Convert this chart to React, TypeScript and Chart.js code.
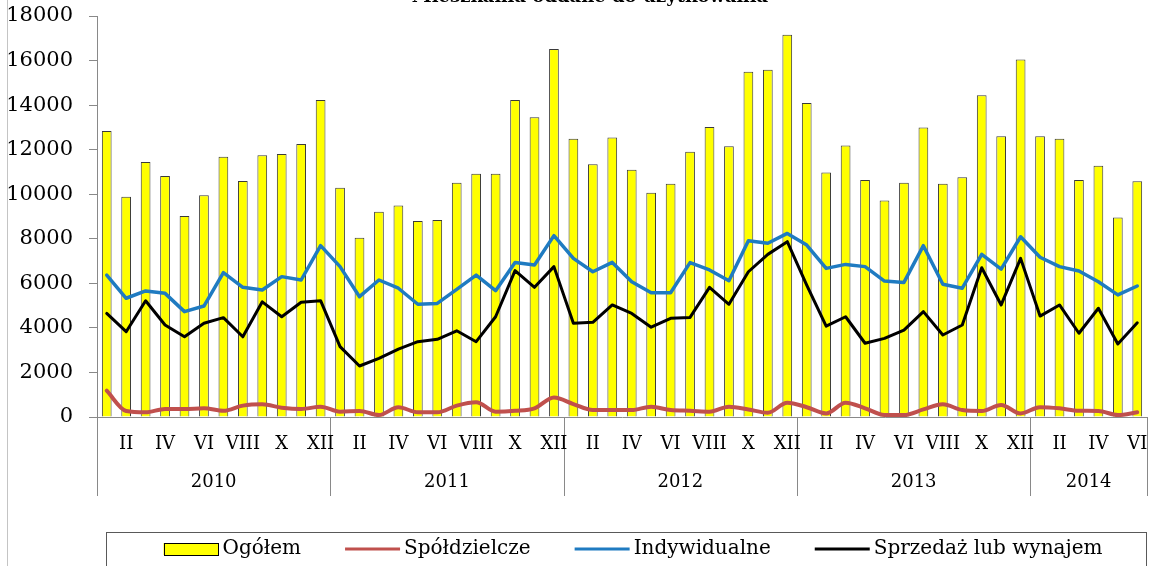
import React, { useEffect, useRef } from 'react';
import { Chart, registerables } from 'chart.js';

Chart.register(...registerables);

const TITLE = 'Mieszkania oddane do użytkowania';
const YEARS = ['2010', '2011', '2012', '2013', '2014'];
const MONTHS = ['I', 'II', 'III', 'IV', 'V', 'VI', 'VII', 'VIII', 'IX', 'X', 'XI', 'XII'];
const MONTHS_PER_YEAR = [12, 12, 12, 12, 6];
const SHOWN_MONTHS = ['II', 'IV', 'VI', 'VIII', 'X', 'XII'];
const SERIES_NAMES = ['Ogółem', 'Spółdzielcze', 'Indywidualne', 'Sprzedaż lub wynajem'];
const Y_MIN = 0;
const Y_MAX = 18000;
const Y_STEP = 2000;

const ogolem = [
  12840, 9890, 11450, 10820, 9020, 9950, 11680, 10590, 11750, 11800, 12250, 14230,
  10290, 8050, 9210, 9490, 8800, 8840, 10520, 10920, 10920, 14230, 13460, 16520,
  12490, 11340, 12550, 11100, 10070, 10470, 11910, 13020, 12150, 15500, 15590, 17160,
  14090, 10980, 12190, 10640, 9720, 10520, 13000, 10470, 10760, 14440, 12600, 16050,
  12600, 12490, 10640, 11280, 8960, 10580,
];

const spoldzielcze = [
  1180, 270, 210, 360, 360, 390, 280, 510, 570, 420, 360, 460,
  240, 270, 90, 440, 210, 210, 510, 660, 240, 280, 390, 870,
  580, 310, 310, 310, 460, 310, 280, 240, 460, 340, 190, 640,
  440, 160, 640, 390, 90, 90, 340, 570, 310, 270, 540, 160,
  440, 390, 280, 270, 90, 210,
];

const indywidualne = [
  6370, 5330, 5660, 5550, 4730, 4980, 6480, 5820, 5700, 6300, 6150, 7690,
  6750, 5400, 6150, 5780, 5060, 5100, 5730, 6370, 5670, 6940, 6820, 8140,
  7120, 6520, 6940, 6070, 5580, 5580, 6930, 6600, 6120, 7910, 7800, 8240,
  7720, 6670, 6850, 6750, 6100, 6040, 7690, 5960, 5780, 7300, 6640, 8090,
  7170, 6750, 6550, 6070, 5480, 5880,
];

const sprzedaz = [
  4650, 3830, 5220, 4130, 3600, 4210, 4460, 3600, 5170, 4500, 5150, 5220,
  3160, 2290, 2630, 3050, 3380, 3490, 3870, 3380, 4500, 6570, 5820, 6750,
  4210, 4250, 5030, 4650, 4030, 4430, 4470, 5820, 5060, 6520, 7300, 7870,
  5920, 4080, 4500, 3310, 3530, 3900, 4730, 3680, 4130, 6700, 5030, 7120,
  4530, 5030, 3760, 4880, 3280, 4230,
];

const catMonth: string[] = [];
const catYear: string[] = [];
YEARS.forEach((y, i) => {
  MONTHS.slice(0, MONTHS_PER_YEAR[i]).forEach((m) => {
    catMonth.push(m);
    catYear.push(y);
  });
});
const categories = catMonth.map((m, i) => `${m} ${catYear[i]}`);

const COLORS = {
  bar: '#FFFF00',
  barBorder: '#3a3a3a',
  red: '#C0504D',
  blue: '#1F7BC1',
  black: '#000000',
  axis: '#898989',
};

const SERIF = '"DejaVu Serif", serif';

const decor = {
  id: 'decor',
  afterDraw(chart: any) {
    const ctx = chart.ctx as CanvasRenderingContext2D;
    const xs = chart.scales.x;
    const area = chart.chartArea;
    ctx.save();

    // outer frame line on the left
    ctx.strokeStyle = '#c4c4c4';
    ctx.lineWidth = 1;
    ctx.beginPath();
    ctx.moveTo(7.5, 0);
    ctx.lineTo(7.5, chart.height);
    ctx.stroke();

    // title (mostly cut off at the top)
    ctx.fillStyle = '#000';
    ctx.font = `bold 18px ${SERIF}`;
    ctx.textAlign = 'center';
    ctx.textBaseline = 'alphabetic';
    ctx.fillText(TITLE, 590, 1.5);

    // x axis: month labels, year labels, dividers
    const half = (xs.getPixelForValue(1) - xs.getPixelForValue(0)) / 2;
    const divBottom = 496;
    ctx.strokeStyle = COLORS.axis;
    ctx.lineWidth = 1;
    ctx.beginPath();
    const lx = Math.round(area.left) + 0.5;
    ctx.moveTo(lx, area.bottom);
    ctx.lineTo(lx, divBottom);
    let idx = 0;
    const groups: { start: number; end: number; year: string }[] = [];
    MONTHS_PER_YEAR.forEach((n, gi) => {
      groups.push({ start: idx, end: idx + n - 1, year: YEARS[gi] });
      idx += n;
    });
    groups.forEach((g) => {
      const bx = Math.round(xs.getPixelForValue(g.end) + half) + 0.5;
      ctx.moveTo(bx, area.bottom);
      ctx.lineTo(bx, divBottom);
    });
    ctx.stroke();

    ctx.fillStyle = '#000';
    ctx.textAlign = 'center';
    ctx.textBaseline = 'middle';
    ctx.font = `18px ${SERIF}`;
    catMonth.forEach((m, i) => {
      if (SHOWN_MONTHS.includes(m)) {
        ctx.fillText(m, xs.getPixelForValue(i), 444);
      }
    });
    groups.forEach((g) => {
      const cx = (xs.getPixelForValue(g.start) + xs.getPixelForValue(g.end)) / 2;
      ctx.fillText(g.year, cx, 482);
    });

    // legend
    ctx.strokeStyle = '#595959';
    ctx.lineWidth = 1;
    ctx.strokeRect(106.5, 532.5, 1040, 60);
    ctx.font = `20px ${SERIF}`;
    ctx.textAlign = 'left';
    const items = chart.data.datasets
      .map((d: any) => d)
      .sort((a: any, b: any) => SERIES_NAMES.indexOf(a.label) - SERIES_NAMES.indexOf(b.label));
    const sw = 55;
    const gap = 4;
    const itemGap = 44;
    const widths = items.map((d: any) => sw + gap + ctx.measureText(d.label).width);
    const total = widths.reduce((a: number, b: number) => a + b, 0) + itemGap * (items.length - 1);
    let x = 633 - total / 2;
    const cy = 549;
    items.forEach((d: any, i: number) => {
      if (d.type === 'bar') {
        ctx.fillStyle = d.backgroundColor;
        ctx.fillRect(x, cy - 6, sw, 12);
        ctx.strokeStyle = '#000';
        ctx.lineWidth = 1;
        ctx.strokeRect(Math.round(x) + 0.5, cy - 6 + 0.5, sw - 1, 12);
      } else {
        ctx.strokeStyle = d.borderColor;
        ctx.lineWidth = 3;
        ctx.beginPath();
        ctx.moveTo(x, cy);
        ctx.lineTo(x + sw, cy);
        ctx.stroke();
      }
      ctx.fillStyle = '#000';
      ctx.textBaseline = 'middle';
      ctx.fillText(d.label, x + sw + gap, cy);
      x += widths[i] + itemGap;
    });

    ctx.restore();
  },
};

export default function App() {
  const ref = useRef<HTMLCanvasElement | null>(null);

  useEffect(() => {
    if (!ref.current) return;
    const chart = new Chart(ref.current, {
      type: 'bar',
      data: {
        labels: categories,
        datasets: [
          {
            type: 'line',
            label: SERIES_NAMES[3],
            data: sprzedaz,
            borderColor: COLORS.black,
            backgroundColor: COLORS.black,
            borderWidth: 3,
            pointRadius: 0,
            tension: 0,
            borderJoinStyle: 'round',
            borderCapStyle: 'round',
            order: 0,
          },
          {
            type: 'line',
            label: SERIES_NAMES[2],
            data: indywidualne,
            borderColor: COLORS.blue,
            backgroundColor: COLORS.blue,
            borderWidth: 3.5,
            pointRadius: 0,
            tension: 0,
            borderJoinStyle: 'round',
            borderCapStyle: 'round',
            order: 1,
          },
          {
            type: 'line',
            label: SERIES_NAMES[1],
            data: spoldzielcze,
            borderColor: COLORS.red,
            backgroundColor: COLORS.red,
            borderWidth: 4,
            pointRadius: 0,
            cubicInterpolationMode: 'monotone',
            borderJoinStyle: 'round',
            borderCapStyle: 'round',
            order: 2,
          },
          {
            type: 'bar',
            label: SERIES_NAMES[0],
            data: ogolem,
            backgroundColor: COLORS.bar,
            borderColor: COLORS.barBorder,
            borderWidth: 1,
            categoryPercentage: 1,
            barPercentage: 0.5,
            order: 3,
          },
        ] as any,
      },
      options: {
        responsive: false,
        animation: false,
        devicePixelRatio: 1,
        layout: { padding: { top: 16, right: 10, left: 0, bottom: 0 } },
        plugins: {
          legend: { display: false },
          tooltip: { enabled: false },
          title: { display: false },
        },
        scales: {
          x: {
            grid: { display: false },
            border: { display: true, color: COLORS.axis },
            ticks: { display: false },
            afterFit(s: any) {
              s.height = 149;
              s.paddingLeft = 0;
              s.paddingRight = 0;
            },
          },
          y: {
            min: Y_MIN,
            max: Y_MAX,
            ticks: {
              stepSize: Y_STEP,
              color: '#000',
              font: { family: SERIF, size: 21 },
              padding: 16,
              callback: (v: any) => String(v),
            },
            grid: {
              drawOnChartArea: false,
              drawTicks: true,
              tickLength: 8,
              color: COLORS.axis,
            },
            border: { display: true, color: COLORS.axis },
            afterFit(s: any) {
              s.width = 97;
              s.paddingTop = 0;
              s.paddingBottom = 0;
            },
          },
        },
      } as any,
      plugins: [decor],
    });
    return () => chart.destroy();
  }, []);

  return (
    <div style={{ position: 'absolute', left: 0, top: 0, width: 1157, height: 566, background: '#fff' }}>
      <canvas ref={ref} width={1157} height={566} style={{ display: 'block', width: 1157, height: 566 }} />
    </div>
  );
}
